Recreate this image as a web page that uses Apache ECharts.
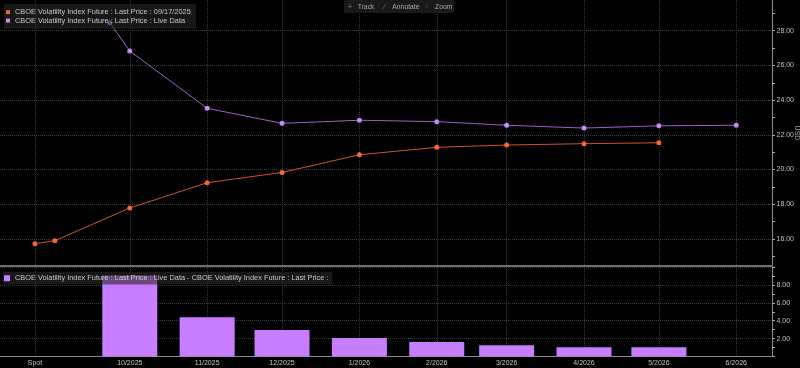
<!DOCTYPE html>
<html><head><meta charset="utf-8">
<script src="https://cdn.jsdelivr.net/npm/echarts@6/dist/echarts.min.js"></script>
<style>html,body{margin:0;padding:0;background:#000;}#c{width:800px;height:368px;}</style>
</head><body><div id="c"></div>
<script>
// ---- data ----
const tickLabels = ['Spot','10/2025','11/2025','12/2025','1/2026','2/2026','3/2026','4/2026','5/2026','6/2026'];
const tickDates  = ['2025-09-14','2025-10-22','2025-11-22','2025-12-22','2026-01-22','2026-02-22','2026-03-22','2026-04-22','2026-05-22','2026-06-22'];
const lastPriceDates  = ['2025-09-14','2025-09-22','2025-10-22','2025-11-22','2025-12-22','2026-01-22','2026-02-22','2026-03-22','2026-04-22','2026-05-22'];
const lastPriceValues = [15.72, 15.90, 17.78, 19.24, 19.83, 20.85, 21.28, 21.41, 21.49, 21.54];
const liveDates  = ['2025-10-14','2025-10-22','2025-11-22','2025-12-22','2026-01-22','2026-02-22','2026-03-22','2026-04-22','2026-05-22','2026-06-22'];
const liveValues = [28.46, 26.83, 23.53, 22.66, 22.84, 22.76, 22.55, 22.39, 22.52, 22.55];
const spreadDates  = ['2025-10-22','2025-11-22','2025-12-22','2026-01-22','2026-02-22','2026-03-22','2026-04-22','2026-05-22'];
const spreadValues = [9.05, 4.39, 2.97, 2.08, 1.63, 1.26, 1.04, 1.04];
const mainYLabels = [16, 18, 20, 22, 24, 26, 28];
const mainYTicks = [15, 16, 17, 18, 19, 20, 21, 22, 23, 24, 25, 26, 27, 28, 29];
const nameLast = 'CBOE Volatility Index Future : Last Price : 09/17/2025';
const nameLive = 'CBOE Volatility Index Future : Last Price : Live Data';
const nameSpread = 'CBOE Volatility Index Future : Last Price : Live Data - CBOE Volatility Index Future : Last Price :';

// ---- helpers ----
const FONT = 'Liberation Sans, Arial, sans-serif';
const DAY = 86400e3;
const epoch = new Date('2025-08-31T12:00:00Z').getTime();
const day = s => Math.round((new Date(s + 'T12:00:00Z').getTime() - epoch) / DAY);
const labelByDay = {};
tickDates.forEach((d, i) => { labelByDay[day(d)] = tickLabels[i]; });
const tickDays = tickDates.map(day);
const xMin = 0;
const xMax = day('2026-07-06') + 0.33;
const zip = (a, b) => a.map((d, i) => [day(d), b[i]]);
const GRIDC = '#3a3a3a';
const LABELC = '#c4c4c4';

function xAxisCfg(gridIndex, showLabels) {
  return {
    type: 'value', gridIndex, min: xMin, max: xMax,
    axisLine: { show: true, onZero: false, lineStyle: { color: gridIndex === 0 ? '#6e6e6e' : '#8a8a8a', width: gridIndex === 0 ? 2 : 1 } },
    axisTick: { show: false, customValues: tickDays },
    axisLabel: { show: showLabels, customValues: tickDays, formatter: v => labelByDay[Math.round(v)] || '',
      color: LABELC, fontSize: 7, fontFamily: FONT, margin: 3, hideOverlap: false },
    splitLine: { show: true, lineStyle: { color: GRIDC, type: 'dotted', width: 1 } }
  };
}

const chart = echarts.init(document.getElementById('c'), null, { renderer: 'canvas' });
chart.setOption({
  backgroundColor: '#000',
  animation: false,
  grid: [
    { left: 0, right: 28, top: 0, height: 266 },
    { left: 0, right: 28, top: 267, height: 89.5 }
  ],
  xAxis: [xAxisCfg(0, false), xAxisCfg(1, true)],
  yAxis: [
    { type: 'value', gridIndex: 0, position: 'right', min: 14.44, max: 29.77,
      axisLine: { show: true, onZero: false, lineStyle: { color: '#8a8a8a' } },
      axisTick: { show: true, inside: false, length: 3, customValues: mainYTicks, lineStyle: { color: '#a8a8a8' } },
      axisLabel: { customValues: mainYLabels, formatter: v => v.toFixed(2), color: LABELC, fontSize: 7, fontFamily: FONT, margin: 4.5 },
      splitLine: { show: false } },
    { type: 'value', gridIndex: 0, position: 'left', min: 14.44, max: 29.77,
      axisLine: { show: false, onZero: false },
      axisTick: { show: false, customValues: mainYLabels },
      axisLabel: { show: false, customValues: mainYLabels },
      splitLine: { show: true, lineStyle: { color: GRIDC, type: 'dotted', width: 1 } } },
    { type: 'value', gridIndex: 1, position: 'right', min: 0, max: 10, interval: 2,
      axisLine: { show: true, onZero: false, lineStyle: { color: '#8a8a8a' } },
      axisTick: { show: true, inside: false, length: 3, lineStyle: { color: '#a8a8a8' } },
      minorTick: { show: true, splitNumber: 2, length: 3, lineStyle: { color: '#a8a8a8' } },
      axisLabel: { formatter: v => (v === 0 || v === 10) ? '' : v.toFixed(2), color: LABELC, fontSize: 7, fontFamily: FONT, margin: 4.5 },
      splitLine: { show: true, lineStyle: { color: GRIDC, type: 'dotted', width: 1 } } }
  ],
  legend: [
    { data: [nameLast, nameLive], orient: 'vertical', left: 4, top: 4, padding: [4, 5, 4, 2],
      itemGap: 0, itemWidth: 4, itemHeight: 4, icon: 'rect', backgroundColor: 'rgba(40,40,40,0.6)',
      selectedMode: false,
      textStyle: { color: '#c8c8c8', fontSize: 7.4, fontFamily: FONT, lineHeight: 8.4 } },
    { data: [nameSpread], orient: 'horizontal', left: 3, top: 272, padding: [2, 4, 2, 1],
      itemWidth: 6, itemHeight: 6, icon: 'rect', backgroundColor: 'rgba(40,40,40,0.6)',
      selectedMode: false,
      textStyle: { color: '#c8c8c8', fontSize: 7.4, fontFamily: FONT, lineHeight: 8.4 } }
  ],
  series: [
    { name: nameLast, type: 'line', xAxisIndex: 0, yAxisIndex: 0, data: zip(lastPriceDates, lastPriceValues),
      symbol: 'circle', symbolSize: 5, lineStyle: { color: '#d4532a', width: 1 }, itemStyle: { color: '#f2692f' }, z: 3 },
    { name: nameLive, type: 'line', xAxisIndex: 0, yAxisIndex: 0, data: zip(liveDates, liveValues),
      symbol: 'circle', symbolSize: 5, lineStyle: { color: '#9a62d4', width: 1 }, itemStyle: { color: '#c58af5' }, z: 3 },
    { name: nameSpread, type: 'bar', xAxisIndex: 1, yAxisIndex: 2, data: zip(spreadDates, spreadValues),
      barWidth: 55, itemStyle: { color: '#c77dff' } }
  ],
  graphic: [
    { type: 'rect', shape: { x: 344, y: 0, width: 110, height: 13, r: 1 }, style: { fill: '#1a1a1a' }, z: 100 },
    { type: 'text', x: 350, y: 6.7, style: { text: '+', fill: '#8a8a8a', font: '7px ' + FONT, align: 'center', verticalAlign: 'middle' }, z: 101 },
    { type: 'text', x: 357.7, y: 6.7, style: { text: 'Track', fill: '#a8a8a8', font: '6.8px ' + FONT, verticalAlign: 'middle' }, z: 101 },
    { type: 'text', x: 384.3, y: 6.7, style: { text: '\u2215', fill: '#8a8a8a', font: '7px ' + FONT, align: 'center', verticalAlign: 'middle' }, z: 101 },
    { type: 'text', x: 392.3, y: 6.7, style: { text: 'Annotate', fill: '#a8a8a8', font: '6.8px ' + FONT, verticalAlign: 'middle' }, z: 101 },
    { type: 'text', x: 426.7, y: 6.7, style: { text: '\u25CB', fill: '#8a8a8a', font: '5px ' + FONT, align: 'center', verticalAlign: 'middle' }, z: 101 },
    { type: 'text', x: 435, y: 6.7, style: { text: 'Zoom', fill: '#a8a8a8', font: '6.8px ' + FONT, verticalAlign: 'middle' }, z: 101 },
    { type: 'text', x: 797, y: 133, rotation: -Math.PI / 2, style: { text: 'USD', fill: '#a0a0a0', font: '7px ' + FONT, align: 'center', verticalAlign: 'middle' }, z: 101 }
  ]
});
</script>
</body></html>
